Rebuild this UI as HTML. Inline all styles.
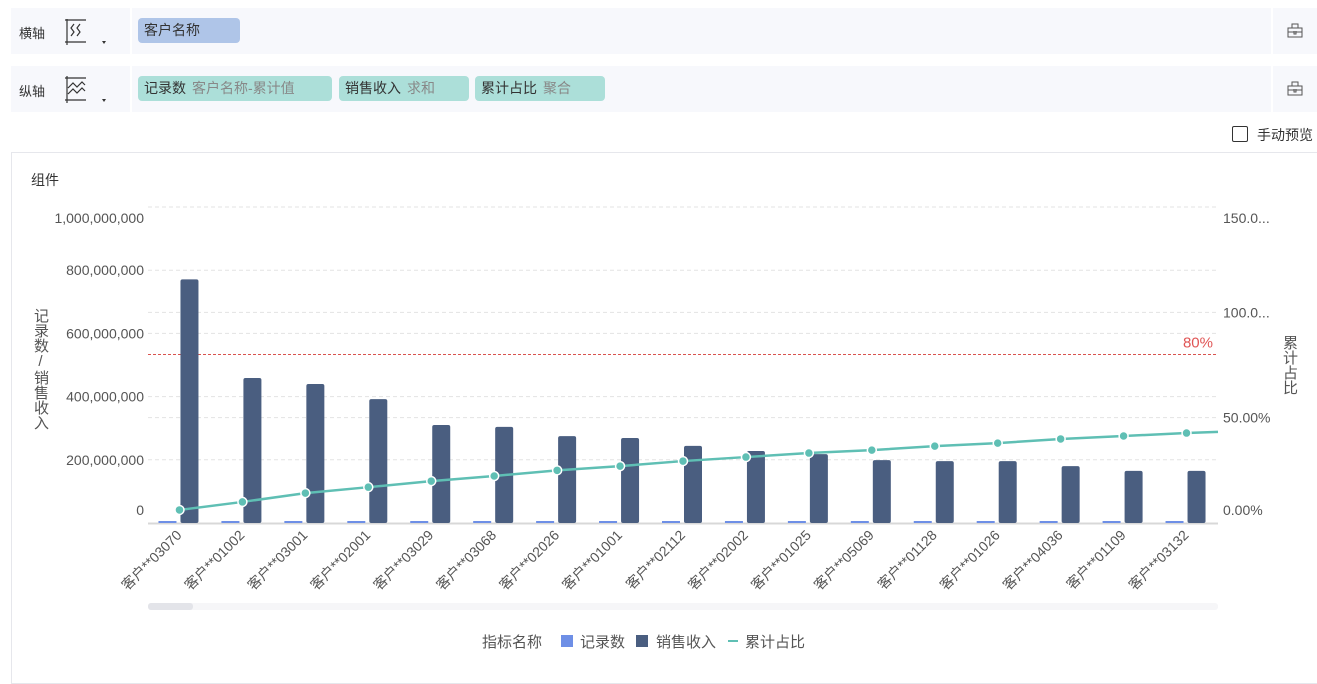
<!DOCTYPE html>
<html><head><meta charset="utf-8">
<style>
body{margin:0;width:1317px;height:671px;background:#fff;font-family:"Liberation Sans","Noto Sans CJK SC",sans-serif;position:relative;overflow:hidden;color:#333}
.row{position:absolute;left:11px;width:1306px;height:46px;background:#f7f8fc}
.lbl{position:absolute;left:8px;top:15px;font-size:13px;color:#333}
.sep{position:absolute;left:119px;top:0;width:2px;height:46px;background:#fff}
.pill{position:absolute;top:10px;height:25px;border-radius:4px;font-size:14px;line-height:25px;padding:0 6px;box-sizing:border-box;color:#333}
.pill span{color:#888;margin-left:6px}
.tb{position:absolute;right:0;top:0;width:44px;height:46px;border-left:2px solid #fff}
.vt{position:absolute;writing-mode:vertical-lr;text-orientation:upright;font-size:15px;color:#555;line-height:16px}
</style></head><body>
<div class="row" style="top:8px">
 <div class="lbl">横轴</div>
 <svg style="position:absolute;left:53px;top:11px" width="50" height="30"><path d="M1 1H22M1 23H22M3 0V26M10 5l-3 4 3 4-3 4M16 5l-3 4 3 4-3 4" stroke="#333" fill="none" stroke-width="1.2"/><path d="M38 22l4 0-2 3z" fill="#333"/></svg>
 <div class="sep"></div>
 <div class="pill" style="left:127px;width:102px;background:#afc5e8">客户名称</div>
 <div class="tb"><svg style="position:absolute;left:14px;top:15px" width="16" height="15"><path d="M1 5h14v9H1zM5 5V1h6v4M1 9h14M7 8v3h2V8" stroke="#555" fill="none"/></svg></div>
</div>
<div class="row" style="top:66px">
 <div class="lbl">纵轴</div>
 <svg style="position:absolute;left:53px;top:10px" width="50" height="30"><path d="M1 2H22M1 24H22M3 0V27M4 12l5-5 4 4 5-5 3 3M4 18l5-5 4 4 5-5 3 3" stroke="#333" fill="none" stroke-width="1.2"/><path d="M38 23l4 0-2 3z" fill="#333"/></svg>
 <div class="sep"></div>
 <div class="pill" style="left:127px;width:194px;background:#acdfd9">记录数<span>客户名称-累计值</span></div>
 <div class="pill" style="left:328px;width:130px;background:#acdfd9">销售收入<span>求和</span></div>
 <div class="pill" style="left:464px;width:130px;background:#acdfd9">累计占比<span>聚合</span></div>
 <div class="tb"><svg style="position:absolute;left:14px;top:15px" width="16" height="15"><path d="M1 5h14v9H1zM5 5V1h6v4M1 9h14M7 8v3h2V8" stroke="#555" fill="none"/></svg></div>
</div>
<div style="position:absolute;left:1232px;top:126px;width:16px;height:16px;border:1px solid #333;border-radius:2px;box-sizing:border-box"></div>
<div style="position:absolute;left:1257px;top:125px;font-size:14px">手动预览</div>
<div style="position:absolute;left:11px;top:152px;width:1310px;height:530px;border:1px solid #e6e7ec"></div>
<div style="position:absolute;left:31px;top:170px;font-size:14px">组件</div>
<div class="vt" style="left:32px;top:308px">记录数/销售收入</div>
<div class="vt" style="left:1281px;top:335px">累计占比</div>
<svg id="c" width="1317" height="671" style="position:absolute;left:0;top:0"></svg>
<script>
const categories=["客户**03070","客户**01002","客户**03001","客户**02001","客户**03029","客户**03068","客户**02026","客户**01001","客户**02112","客户**02002","客户**01025","客户**05069","客户**01128","客户**01026","客户**04036","客户**01109","客户**03132"];
const salesValues=[771,459,440,392,310,304,275,269,244,228,218,199,196,196,180,165,165];
const recordValues=[1,2,3,4,5,6,7,8,9,10,11,12,13,14,15,16,17];
const cumulativeShare=[6.2,10,14.2,17,19.9,22.3,25,27,29.4,31.3,33.2,34.6,36.5,37.9,39.9,41.3,42.7];
const leftTicks=[0,200,400,600,800,1000];
const leftTickLabels=["0","200,000,000","400,000,000","600,000,000","800,000,000","1,000,000,000"];
const rightTicks=[0,50,100,150];
const rightTickLabels=["0.00%","50.00%","100.0...","150.0..."];
const threshold=80;
const svg=document.getElementById('c');const NS='http://www.w3.org/2000/svg';
const X0=148,X1=1218,Y0=523,YT=207;
const bw=(X1-X0)/categories.length;
const yL=v=>Y0-(v/1000)*(Y0-YT);
const yR=v=>Y0-(v/150)*(Y0-YT);
const cx=i=>X0+bw*(i+0.5);
function el(t,a,txt){const e=document.createElementNS(NS,t);for(const k in a)e.setAttribute(k,a[k]);if(txt!=null)e.textContent=txt;svg.appendChild(e);return e;}
const clampY=y=>Math.min(Math.max(y,218),510);
leftTicks.forEach((v,i)=>{
 if(v>0){const g=el('line',{x1:X0,x2:X1,y1:yL(v),y2:yL(v),stroke:'#e3e3e3','stroke-dasharray':'4 3'});}
 const t=el('text',{x:144,y:clampY(yL(v))+5,'text-anchor':'end','font-size':14,fill:'#555'},leftTickLabels[i]);
 
});
rightTicks.forEach((v,i)=>{
 if(v>0){const g=el('line',{x1:X0,x2:X1,y1:yR(v),y2:yR(v),stroke:'#e3e3e3','stroke-dasharray':'4 3'});}
 const t=el('text',{x:1223,y:clampY(yR(v))+5,'font-size':14,fill:'#555'},rightTickLabels[i]);
 
});
const ax=el('line',{x1:X0,x2:X1,y1:Y0+0.5,y2:Y0+0.5,stroke:'#d8d8d8','stroke-width':2});

const th=el('line',{x1:X0,x2:X1,y1:yR(threshold),y2:yR(threshold),stroke:'#d9534f','stroke-dasharray':'3 2'});

const tl=el('text',{x:1213,y:yR(threshold)-7,'text-anchor':'end','font-size':15,fill:'#e05555'},threshold+'%');

categories.forEach((c,i)=>{
 const r=el('rect',{x:cx(i)-21,y:yL(recordValues[i]/1e6)-2,width:18,height:2,fill:'#6e8fe6'});
 
 const b=el('rect',{x:cx(i)+1,y:yL(salesValues[i]),width:18,height:Y0-yL(salesValues[i]),fill:'#4a5e80',rx:2});
 
 const x=cx(i)+3,y=536;
 const t=el('text',{x:x,y:y,'text-anchor':'end','font-size':14,fill:'#555',transform:`rotate(-45 ${x} ${y})`},c);
 
});
const pl=el('polyline',{points:cumulativeShare.map((v,i)=>cx(i)+','+yR(v)).join(' ')+' '+X1+','+yR(cumulativeShare[16]+(cumulativeShare[16]-cumulativeShare[15])*0.38),fill:'none',stroke:'#5fbfb4','stroke-width':2.5});

cumulativeShare.forEach((v,i)=>{const p=el('circle',{cx:cx(i),cy:yR(v),r:4.5,fill:'#5fbfb4',stroke:'#fff','stroke-width':1.5});});
const sb=el('rect',{x:X0,y:603,width:X1-X0,height:7,fill:'#f6f6f8',rx:3});
const st=el('rect',{x:X0,y:603,width:45,height:7,fill:'#e3e4e9',rx:3});
const lg=[['text',{x:482,y:647,'font-size':15,fill:'#555'},'指标名称'],['rect',{x:561,y:635,width:12,height:12,fill:'#6e8fe6'}],['text',{x:580,y:647,'font-size':15,fill:'#555'},'记录数'],['rect',{x:636,y:635,width:12,height:12,fill:'#4a5e80'}],['text',{x:656,y:647,'font-size':15,fill:'#555'},'销售收入'],['rect',{x:728,y:640,width:10,height:2,fill:'#5fbfb4'}],['text',{x:745,y:647,'font-size':15,fill:'#555'},'累计占比']];
lg.forEach(a=>{const e=el(a[0],a[1],a[2]);});
</script>
</body></html>
